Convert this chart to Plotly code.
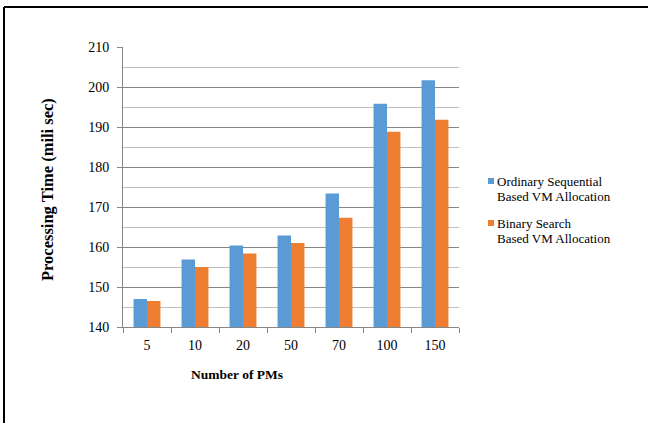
import plotly.graph_objects as go

categories = ["5", "10", "20", "50", "70", "100", "150"]
sequential = [147.0, 156.9, 160.4, 162.9, 173.4, 195.8, 201.7]
binary = [146.5, 155.0, 158.4, 161.0, 167.3, 188.8, 191.8]
series_names = ["Ordinary Sequential<br>Based VM Allocation", "Binary Search<br>Based VM Allocation"]
series_colors = ["#5B9BD5", "#ED7D31"]
y_ticks = [140, 150, 160, 170, 180, 190, 200, 210]

FONT = "'Times New Roman', 'Liberation Serif', serif"
W, H = 648, 423
L, R, T, B = 123, 189, 47, 96
pw, ph = W - L - R, H - T - B


def px(x):
    return (x - L) / pw


def py(y):
    return (T + ph - y) / ph


fig = go.Figure()
for name, vals, col in zip(series_names, [sequential, binary], series_colors):
    fig.add_trace(go.Bar(x=categories, y=vals, name=name.replace("<br>", " "),
                         marker=dict(color=col, line=dict(width=0))))

fig.update_layout(
    width=W, height=H,
    margin=dict(l=L, r=R, t=T, b=B, autoexpand=False),
    paper_bgcolor="white", plot_bgcolor="white",
    barmode="group", bargap=0.44, bargroupgap=0,
    font=dict(family=FONT, size=14, color="#000000"),
    showlegend=False,
)
fig.update_xaxes(type="category", showline=True, linecolor="#868686", linewidth=1,
                 ticks="outside", tickson="boundaries", ticklen=5, tickcolor="#868686",
                 showgrid=False, tickfont=dict(family=FONT, size=14), ticklabelstandoff=5)
fig.update_yaxes(range=[140, 210], tickvals=y_ticks, showline=True, linecolor="#868686", linewidth=1,
                 ticks="outside", ticklen=5, tickcolor="#868686",
                 showgrid=True, gridcolor="#868686", gridwidth=1,
                 minor=dict(dtick=5, showgrid=True, gridcolor="#BFBFBF", gridwidth=1, ticks=""),
                 zeroline=False, tickfont=dict(family=FONT, size=14), ticklabelstandoff=5)

# legend drawn to the right of the plot
legend_top = [181, 223]
for i, (name, col) in enumerate(zip(series_names, series_colors)):
    yc = legend_top[i]
    fig.add_shape(type="rect", xref="paper", yref="paper",
                  x0=px(488), x1=px(494), y0=py(yc + 3), y1=py(yc - 3),
                  fillcolor=col, line=dict(width=0))
    for j, line in enumerate(name.split("<br>")):
        fig.add_annotation(text=line, xref="paper", yref="paper",
                           x=px(495), y=py(yc + j * 15.5), xanchor="left", yanchor="middle",
                           showarrow=False, font=dict(family=FONT, size=13))

fig.add_annotation(text="<b>Number of PMs</b>", xref="paper", yref="paper",
                   x=px(237), y=py(374), xanchor="center", yanchor="middle",
                   showarrow=False, font=dict(family=FONT, size=13.5))
fig.add_annotation(text="<b>Processing Time (mili sec)</b>", xref="paper", yref="paper",
                   x=px(47), y=py(190), xanchor="center", yanchor="middle",
                   textangle=-90, showarrow=False, font=dict(family=FONT, size=16.5))

# outer frame (only top and left edges visible)
fig.add_shape(type="line", xref="paper", yref="paper",
              x0=px(4), x1=px(W + 10), y0=py(7), y1=py(7),
              line=dict(color="#000000", width=2))
fig.add_shape(type="line", xref="paper", yref="paper",
              x0=px(4), x1=px(4), y0=py(7), y1=py(H + 10),
              line=dict(color="#000000", width=2))

fig.write_html("out.html", config={"displayModeBar": False},
               post_script="document.body.style.margin='0';document.body.style.padding='0';")
